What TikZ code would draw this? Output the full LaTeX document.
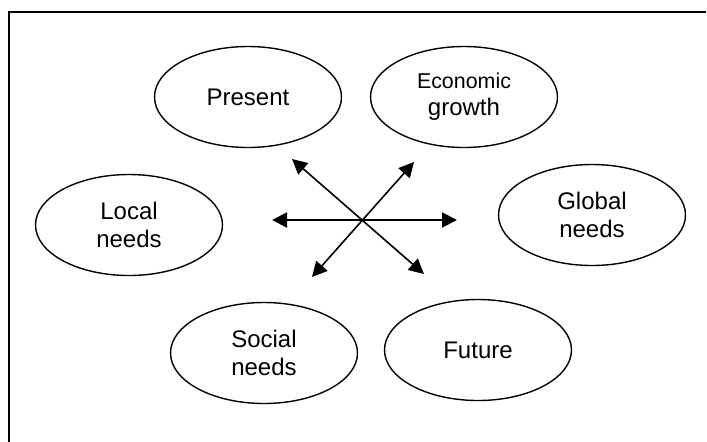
\documentclass[tikz,border=0pt]{standalone}
\usepackage{fontspec}
\setmainfont{Liberation Sans}
\usepackage{tikz}
\usetikzlibrary{shapes.geometric, arrows.meta}

\tikzset{
    aim/.style={draw, ellipse, line width=0.7pt, inner sep=0pt,
        minimum width=93.5pt, minimum height=50.5pt, align=center,
        font=\fontsize{12}{13.7}\selectfont},
    dblarrow/.style={{Triangle[length=7.5pt,width=7.5pt]}-{Triangle[length=7.5pt,width=7.5pt]},
        line width=0.8pt}
}

\begin{document}
\begin{tikzpicture}[x=0.5pt, y=-0.5pt]
        \useasboundingbox (0,0) rectangle (707,441);

        % Frame (open on the right and at the bottom)
        \draw[line width=1pt] (9,445) -- (9,12) -- (706,12);

        % The six aims
        \node[aim] (present) at (248,97) {Present};
        \node[aim] (economy) at (464,97) {{\fontsize{10.7}{12.8}\selectfont Economic}\\growth};
        \node[aim] (local) at (129,225) {Local\\needs};
        \node[aim] (global) at (592,215) {Global\\needs};
        \node[aim] (social) at (264,353) {Social\\needs};
        \node[aim] (future) at (478,350) {Future};

        % Arrow ends
        \coordinate (west) at (272,220);
        \coordinate (east) at (457,220);
        \coordinate (nw) at (292,159);
        \coordinate (se) at (424,274);
        \coordinate (ne) at (414,162);
        \coordinate (sw) at (312,277);

        % Crossing arrows
        \draw[dblarrow, line width=1pt] (west) -- (east);
        \draw[dblarrow] (nw) -- (se);
        \draw[dblarrow] (ne) -- (sw);
\end{tikzpicture}
\end{document}
